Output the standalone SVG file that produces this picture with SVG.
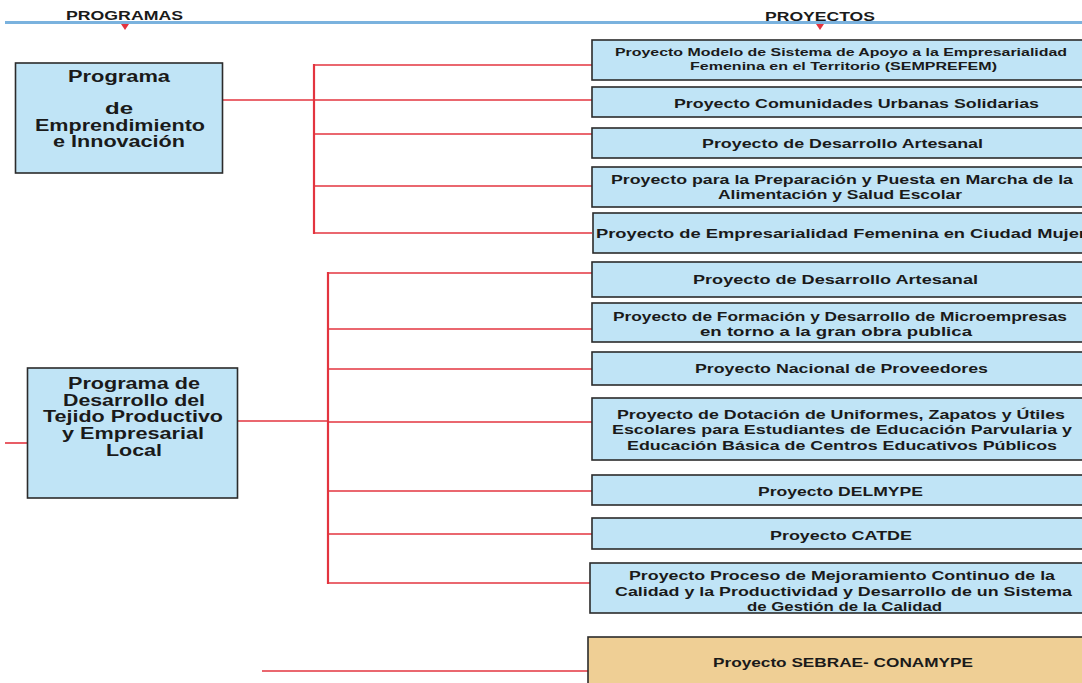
<svg xmlns="http://www.w3.org/2000/svg" width="1082" height="683" viewBox="0 0 1082 683">
<style>
.box{fill:#c0e4f6;stroke:#2b2b2b;stroke-width:1.6}
.tan{fill:#efcf95;stroke:#2b2b2b;stroke-width:1.6}
.t{font-family:"Liberation Sans",Arial,sans-serif;font-weight:bold;fill:#1a1a1a}
.c{stroke:#e3343f;stroke-width:1.6;fill:none}
.v{stroke:#e3343f;stroke-width:2.2;fill:none}
.h{font-family:"Liberation Sans",Arial,sans-serif;font-weight:bold;fill:#1a1a1a;font-size:13px}
</style>
<rect width="1082" height="683" fill="#ffffff"/>
<g id="header">
<line x1="5" y1="22.5" x2="1082" y2="22.5" stroke="#7ab2de" stroke-width="3"/>
<text class="h" x="66" y="20" textLength="117" lengthAdjust="spacingAndGlyphs">PROGRAMAS</text>
<text class="h" x="765" y="21" textLength="110" lengthAdjust="spacingAndGlyphs">PROYECTOS</text>
<polygon points="121,24 129,24 125,30" fill="#e3343f"/>
<polygon points="816,24 824,24 820,30" fill="#e3343f"/>
</g>
<g id="connectors">
<line class="c" x1="222" y1="100" x2="314" y2="100"/>
<line class="v" x1="314" y1="64" x2="314" y2="234"/>
<line class="c" x1="314" y1="65" x2="592" y2="65"/>
<line class="c" x1="314" y1="100" x2="592" y2="100"/>
<line class="c" x1="314" y1="134" x2="592" y2="134"/>
<line class="c" x1="314" y1="186" x2="592" y2="186"/>
<line class="c" x1="314" y1="233" x2="592" y2="233"/>
<line class="c" x1="5" y1="443" x2="27" y2="443"/>
<line class="c" x1="238" y1="421" x2="328" y2="421"/>
<line class="v" x1="328" y1="272" x2="328" y2="584"/>
<line class="c" x1="328" y1="273" x2="592" y2="273"/>
<line class="c" x1="328" y1="329" x2="592" y2="329"/>
<line class="c" x1="328" y1="369" x2="592" y2="369"/>
<line class="c" x1="328" y1="422" x2="592" y2="422"/>
<line class="c" x1="328" y1="491" x2="592" y2="491"/>
<line class="c" x1="328" y1="534" x2="592" y2="534"/>
<line class="c" x1="328" y1="583" x2="592" y2="583"/>
<line class="c" x1="262" y1="671" x2="589" y2="671"/>
</g>
<g id="prog1">
<rect class="box" x="15.5" y="63" width="207" height="110"/>
<text class="t" font-size="16" x="68" y="82" textLength="102" lengthAdjust="spacingAndGlyphs">Programa</text>
<text class="t" font-size="16" x="105" y="114" textLength="28" lengthAdjust="spacingAndGlyphs">de</text>
<text class="t" font-size="16" x="35" y="131" textLength="170" lengthAdjust="spacingAndGlyphs">Emprendimiento</text>
<text class="t" font-size="16" x="53" y="147" textLength="132" lengthAdjust="spacingAndGlyphs">e Innovación</text>
</g>
<g id="prog2">
<rect class="box" x="27.5" y="368" width="210" height="130"/>
<text class="t" font-size="16" x="68" y="389" textLength="132" lengthAdjust="spacingAndGlyphs">Programa de</text>
<text class="t" font-size="16" x="63" y="406" textLength="142" lengthAdjust="spacingAndGlyphs">Desarrollo del</text>
<text class="t" font-size="16" x="43" y="422" textLength="180" lengthAdjust="spacingAndGlyphs">Tejido Productivo</text>
<text class="t" font-size="16" x="62" y="439" textLength="142" lengthAdjust="spacingAndGlyphs">y Empresarial</text>
<text class="t" font-size="16" x="106" y="456" textLength="56" lengthAdjust="spacingAndGlyphs">Local</text>
</g>
<g id="p1">
<rect class="box" x="592" y="40" width="500" height="40"/>
<text class="t" font-size="11" x="615" y="56" textLength="452" lengthAdjust="spacingAndGlyphs">Proyecto Modelo de Sistema de Apoyo a la Empresarialidad</text>
<text class="t" font-size="11" x="690" y="70" textLength="307" lengthAdjust="spacingAndGlyphs">Femenina en el Territorio (SEMPREFEM)</text>
</g>
<g id="p2">
<rect class="box" x="592" y="87" width="500" height="30"/>
<text class="t" font-size="13" x="674" y="108" textLength="365" lengthAdjust="spacingAndGlyphs">Proyecto Comunidades Urbanas Solidarias</text>
</g>
<g id="p3">
<rect class="box" x="592" y="128" width="500" height="30"/>
<text class="t" font-size="13" x="702" y="148" textLength="281" lengthAdjust="spacingAndGlyphs">Proyecto de Desarrollo Artesanal</text>
</g>
<g id="p4">
<rect class="box" x="592" y="167" width="500" height="40"/>
<text class="t" font-size="12.5" x="611" y="184" textLength="462" lengthAdjust="spacingAndGlyphs">Proyecto para la Preparación y Puesta en Marcha de la</text>
<text class="t" font-size="12.5" x="718" y="199" textLength="244" lengthAdjust="spacingAndGlyphs">Alimentación y Salud Escolar</text>
</g>
<g id="p5">
<rect class="box" x="593" y="213" width="500" height="40"/>
<text class="t" font-size="13" x="596" y="238" textLength="490" lengthAdjust="spacingAndGlyphs">Proyecto de Empresarialidad Femenina en Ciudad Mujer</text>
</g>
<g id="p6">
<rect class="box" x="592" y="262" width="500" height="35"/>
<text class="t" font-size="12.5" x="693" y="284" textLength="285" lengthAdjust="spacingAndGlyphs">Proyecto de Desarrollo Artesanal</text>
</g>
<g id="p7">
<rect class="box" x="592" y="303" width="500" height="39"/>
<text class="t" font-size="12.5" x="613" y="321" textLength="454" lengthAdjust="spacingAndGlyphs">Proyecto de Formación y Desarrollo de Microempresas</text>
<text class="t" font-size="12.5" x="700" y="336" textLength="272" lengthAdjust="spacingAndGlyphs">en torno a la gran obra publica</text>
</g>
<g id="p8">
<rect class="box" x="592" y="352" width="500" height="33"/>
<text class="t" font-size="13" x="695" y="373" textLength="293" lengthAdjust="spacingAndGlyphs">Proyecto Nacional de Proveedores</text>
</g>
<g id="p9">
<rect class="box" x="592" y="398" width="500" height="62"/>
<text class="t" font-size="12.5" x="617" y="419" textLength="448" lengthAdjust="spacingAndGlyphs">Proyecto de Dotación de Uniformes, Zapatos y Útiles</text>
<text class="t" font-size="12.5" x="612" y="434" textLength="460" lengthAdjust="spacingAndGlyphs">Escolares para Estudiantes de Educación Parvularia y</text>
<text class="t" font-size="12.5" x="627" y="450" textLength="430" lengthAdjust="spacingAndGlyphs">Educación Básica de Centros Educativos Públicos</text>
</g>
<g id="p10">
<rect class="box" x="592" y="475" width="500" height="30"/>
<text class="t" font-size="12.5" x="758" y="496" textLength="165" lengthAdjust="spacingAndGlyphs">Proyecto DELMYPE</text>
</g>
<g id="p11">
<rect class="box" x="592" y="518" width="500" height="31"/>
<text class="t" font-size="13" x="770" y="540" textLength="142" lengthAdjust="spacingAndGlyphs">Proyecto CATDE</text>
</g>
<g id="p12">
<rect class="box" x="590" y="563" width="502" height="50"/>
<text class="t" font-size="12.5" x="629" y="580" textLength="426" lengthAdjust="spacingAndGlyphs">Proyecto Proceso de Mejoramiento Continuo de la</text>
<text class="t" font-size="12.5" x="615" y="596" textLength="457" lengthAdjust="spacingAndGlyphs">Calidad y la Productividad y Desarrollo de un Sistema</text>
<text class="t" font-size="12.5" x="747" y="611" textLength="195" lengthAdjust="spacingAndGlyphs">de Gestión de la Calidad</text>
</g>
<g id="p13">
<rect class="tan" x="588" y="637" width="504" height="60"/>
<text class="t" font-size="12" x="713" y="667" textLength="260" lengthAdjust="spacingAndGlyphs">Proyecto SEBRAE- CONAMYPE</text>
</g>
</svg>
